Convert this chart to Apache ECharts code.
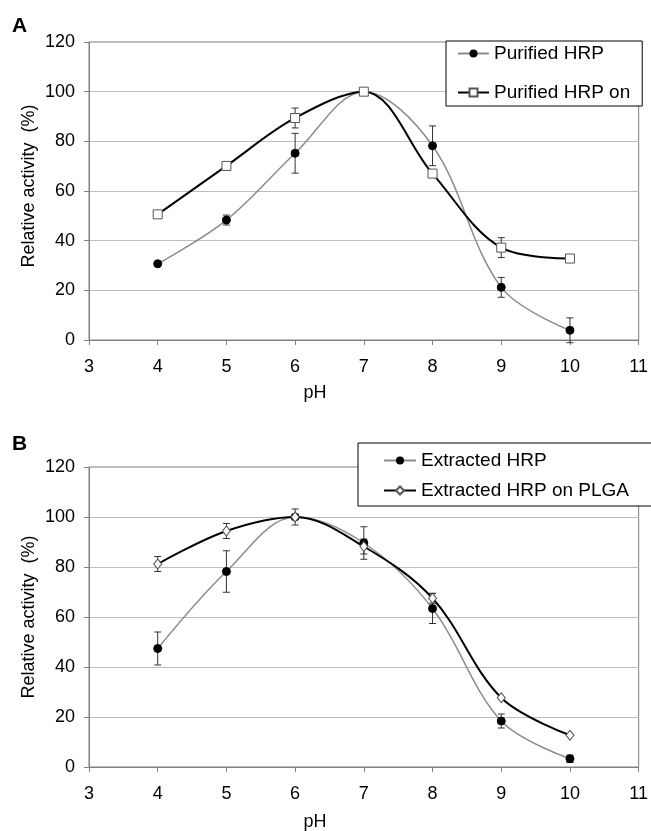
<!DOCTYPE html>
<html>
<head>
    <meta charset="utf-8">
    <script src="https://cdn.jsdelivr.net/npm/echarts@6/dist/echarts.min.js"></script>
    <style>
        body { margin: 0; background: #fff; }
        #main { width: 651px; height: 831px; }
    </style>
</head>
<body>
    <div id="main"></div>
    <script type="text/javascript">
        var phValues = [4, 5, 6, 7, 8, 9, 10];

        // panel A
        var purifiedHRP = [30.7, 48.3, 75.2, 100, 78.2, 21.2, 3.9];
        var purifiedHRPErr = [0.8, 2, 8, 0, 8, 4, 5];
        var purifiedHRPOn = [50.6, 70.1, 89.4, 100, 67, 37.2, 32.8];
        var purifiedHRPOnErr = [0, 0, 4, 0, 0, 4, 0];

        // panel B
        var extractedHRP = [47.4, 78.2, 100, 89.6, 63.4, 18.4, 3.3];
        var extractedHRPErr = [6.6, 8.3, 0, 6.5, 6, 2.8, 1.5];
        var extractedPLGA = [81.2, 94.4, 100, 88.2, 67.5, 27.7, 12.7];
        var extractedPLGAErr = [3, 3, 3.2, 3, 2, 0, 0];

        var yTicks = [0, 20, 40, 60, 80, 100, 120];

        var FONT = 'Liberation Sans, Arial, sans-serif';
        var SMOOTH = 0.35;

        function pairs(vals) {
            return phValues.map(function (x, i) { return [x, vals[i]]; });
        }

        function errData(vals, errs) {
            var out = [];
            phValues.forEach(function (x, i) {
                if (errs[i] > 0) out.push([x, vals[i] - errs[i], vals[i] + errs[i]]);
            });
            return out;
        }

        function errorSeries(idx, vals, errs) {
            return {
                type: 'custom',
                xAxisIndex: idx,
                yAxisIndex: idx,
                z: 1,
                silent: true,
                data: errData(vals, errs),
                renderItem: function (params, api) {
                    var lo = api.coord([api.value(0), api.value(1)]);
                    var hi = api.coord([api.value(0), api.value(2)]);
                    var w = 3.5;
                    var st = { stroke: '#333', lineWidth: 1 };
                    return {
                        type: 'group',
                        children: [
                            { type: 'line', shape: { x1: lo[0], y1: lo[1], x2: hi[0], y2: hi[1] }, style: st },
                            { type: 'line', shape: { x1: lo[0] - w, y1: lo[1], x2: lo[0] + w, y2: lo[1] }, style: st },
                            { type: 'line', shape: { x1: hi[0] - w, y1: hi[1], x2: hi[0] + w, y2: hi[1] }, style: st }
                        ]
                    };
                }
            };
        }

        function xAxis(idx, margin) {
            return {
                type: 'value',
                gridIndex: idx,
                min: 3,
                max: 11,
                interval: 1,
                axisLine: { show: true, onZero: false, lineStyle: { color: '#808080', width: 1 } },
                axisTick: { show: true, length: 5, lineStyle: { color: '#808080' } },
                axisLabel: { margin: margin, fontSize: 18, color: '#000', fontFamily: FONT },
                splitLine: { show: false }
            };
        }

        function yAxis(idx) {
            return {
                type: 'value',
                gridIndex: idx,
                min: yTicks[0],
                max: yTicks[yTicks.length - 1],
                interval: 20,
                axisLine: { show: true, lineStyle: { color: '#808080', width: 1 } },
                axisTick: { show: true, length: 5, lineStyle: { color: '#808080' } },
                axisLabel: { margin: 14, fontSize: 18, color: '#000', fontFamily: FONT },
                splitLine: { show: true, lineStyle: { color: '#bdbdbd', width: 1 } }
            };
        }

        var myChart = echarts.init(document.getElementById('main'), null, { renderer: 'canvas' });

        myChart.setOption({
            animation: false,
            backgroundColor: '#fff',
            textStyle: { fontFamily: FONT },
            grid: [
                { left: 89, right: 10, top: 42, height: 298, show: true, borderColor: '#808080', borderWidth: 1 },
                { left: 89, right: 10, top: 467, height: 300, show: true, borderColor: '#808080', borderWidth: 1 }
            ],
            xAxis: [xAxis(0, 18), xAxis(1, 18)],
            yAxis: [yAxis(0), yAxis(1)],
            legend: [
                {
                    data: ['Purified HRP', 'Purified HRP on'],
                    orient: 'vertical',
                    left: 446,
                    top: 41,
                    itemWidth: 31,
                    itemHeight: 10,
                    itemGap: 20,
                    padding: [3, 12, 4, 11],
                    borderColor: '#000',
                    borderWidth: 1,
                    backgroundColor: '#fff',
                    textStyle: { fontSize: 19, color: '#000', fontFamily: FONT }
                },
                {
                    data: ['Extracted HRP', 'Extracted HRP on PLGA'],
                    orient: 'vertical',
                    left: 358,
                    top: 443,
                    itemWidth: 32,
                    itemHeight: 10,
                    itemGap: 11,
                    padding: [8, 40, 6, 25],
                    borderColor: '#000',
                    borderWidth: 1,
                    backgroundColor: '#fff',
                    textStyle: { fontSize: 19, color: '#000', fontFamily: FONT }
                }
            ],
            graphic: [
                { type: 'text', left: 12, top: 16, style: { text: 'A', font: 'bold 21px ' + FONT, fill: '#000' } },
                { type: 'text', left: 12, top: 434, style: { text: 'B', font: 'bold 21px ' + FONT, fill: '#000' } },
                { type: 'text', x: 29, y: 186, rotation: Math.PI / 2,
                  style: { text: 'Relative activity  (%)', font: '18px ' + FONT, fill: '#000', align: 'center', verticalAlign: 'middle' } },
                { type: 'text', x: 29, y: 617, rotation: Math.PI / 2,
                  style: { text: 'Relative activity  (%)', font: '18px ' + FONT, fill: '#000', align: 'center', verticalAlign: 'middle' } },
                { type: 'text', x: 315, y: 393,
                  style: { text: 'pH', font: '18px ' + FONT, fill: '#000', align: 'center', verticalAlign: 'middle' } },
                { type: 'text', x: 315, y: 822,
                  style: { text: 'pH', font: '18px ' + FONT, fill: '#000', align: 'center', verticalAlign: 'middle' } }
            ],
            series: [
                errorSeries(0, purifiedHRP, purifiedHRPErr),
                errorSeries(0, purifiedHRPOn, purifiedHRPOnErr),
                errorSeries(1, extractedHRP, extractedHRPErr),
                errorSeries(1, extractedPLGA, extractedPLGAErr),
                {
                    name: 'Purified HRP',
                    type: 'line',
                    xAxisIndex: 0,
                    yAxisIndex: 0,
                    smooth: SMOOTH,
                    z: 3,
                    data: pairs(purifiedHRP),
                    symbol: 'circle',
                    symbolSize: 8,
                    itemStyle: { color: '#000', borderColor: '#000' },
                    lineStyle: { color: '#8c8c8c', width: 1.5 }
                },
                {
                    name: 'Purified HRP on',
                    type: 'line',
                    xAxisIndex: 0,
                    yAxisIndex: 0,
                    smooth: SMOOTH,
                    z: 4,
                    data: pairs(purifiedHRPOn),
                    symbol: 'rect',
                    symbolSize: 9,
                    itemStyle: { color: '#fff', borderColor: '#555', borderWidth: 1 },
                    lineStyle: { color: '#000', width: 2 }
                },
                {
                    name: 'Extracted HRP',
                    type: 'line',
                    xAxisIndex: 1,
                    yAxisIndex: 1,
                    smooth: SMOOTH,
                    z: 3,
                    data: pairs(extractedHRP),
                    symbol: 'circle',
                    symbolSize: 8,
                    itemStyle: { color: '#000', borderColor: '#000' },
                    lineStyle: { color: '#8c8c8c', width: 1.5 }
                },
                {
                    name: 'Extracted HRP on PLGA',
                    type: 'line',
                    xAxisIndex: 1,
                    yAxisIndex: 1,
                    smooth: SMOOTH,
                    z: 4,
                    data: pairs(extractedPLGA),
                    symbol: 'diamond',
                    symbolSize: [8, 10],
                    itemStyle: { color: '#fff', borderColor: '#555', borderWidth: 1 },
                    lineStyle: { color: '#000', width: 2 }
                }
            ]
        });
    </script>
</body>
</html>
